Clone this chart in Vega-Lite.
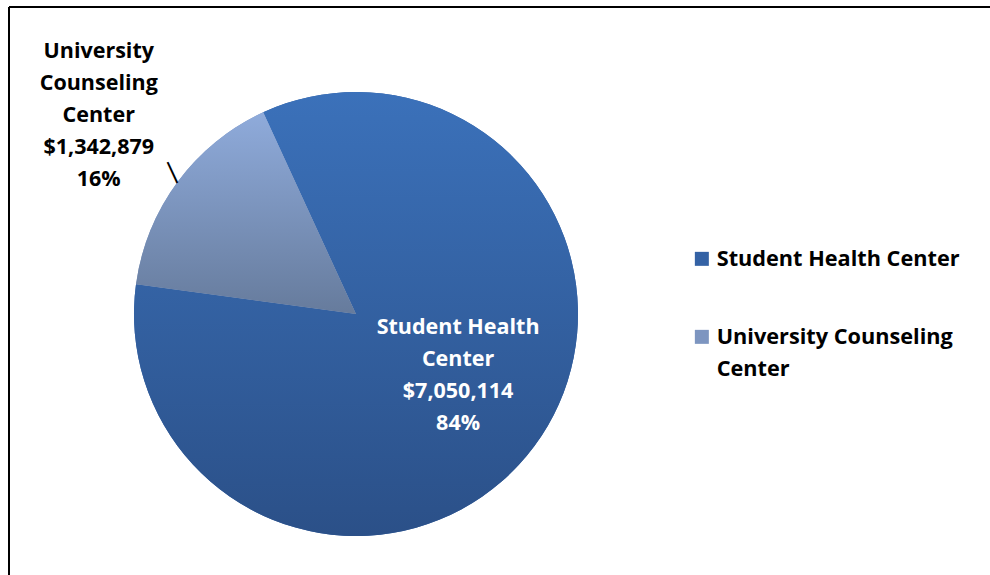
{
  "$schema": "https://vega.github.io/schema/vega-lite/v6.json",
  "width": 982,
  "height": 569,
  "padding": {"left": 8, "top": 6, "right": 0, "bottom": 0},
  "background": "white",
  "config": {
    "view": {"stroke": null},
    "style": {"guide-label": {"lineHeight": 32}}
  },
  "data": {
    "values": [
      {"name": "Student Health Center", "value": 7050114, "label": "Student Health\nCenter\n$7,050,114\n84%"},
      {"name": "University Counseling Center", "value": 1342879, "label": "University\nCounseling\nCenter\n$1,342,879\n16%"}
    ]
  },
  "layer": [
    {
      "data": {"values": [{"edge": "top"}]},
      "mark": {"type": "rule", "stroke": "black", "strokeWidth": 2},
      "encoding": {"y": {"value": 0}}
    },
    {
      "data": {"values": [{"edge": "left"}]},
      "mark": {"type": "rule", "stroke": "black", "strokeWidth": 2},
      "encoding": {"x": {"value": 0}}
    },
    {
      "mark": {"type": "arc", "outerRadius": 222, "x": 347, "y": 307, "stroke": null},
      "encoding": {
        "theta": {"field": "value", "type": "quantitative", "stack": true, "scale": {"range": [-0.431, 5.852]}},
        "color": {
          "field": "name",
          "type": "nominal",
          "scale": {
            "domain": ["Student Health Center", "University Counseling Center"],
            "range": ["#3462a5", "#7d95c0"]
          },
          "legend": {
            "title": null,
            "orient": "none",
            "legendX": 682,
            "legendY": 241,
            "symbolType": "square",
            "symbolSize": 196,
            "symbolStrokeWidth": 0,
            "symbolOpacity": 1,
            "labelFont": "Open Sans",
            "labelFontWeight": "bold",
            "labelFontSize": 21.7,
            "labelColor": "black",
            "labelLimit": 400,
            "labelOffset": 4,
            "rowPadding": 55,
            "labelExpr": "datum.label == 'University Counseling Center' ? ['University Counseling', 'Center'] : datum.label"
          }
        }
      }
    },
    {
      "mark": {"type": "arc", "outerRadius": 222, "x": 347, "y": 307, "stroke": null},
      "encoding": {
        "theta": {"field": "value", "type": "quantitative", "stack": true},
        "fill": {
          "condition": {"test": "datum.name == 'Student Health Center'", "value": {"gradient": "linear", "x1": 0, "y1": 0, "x2": 0, "y2": 1, "stops": [{"offset": 0, "color": "#3b71ba"}, {"offset": 1, "color": "#2b5088"}]}},
          "value": {"gradient": "linear", "x1": 0, "y1": 0, "x2": 0, "y2": 1, "stops": [{"offset": 0, "color": "#8fabdb"}, {"offset": 1, "color": "#667b9c"}]}
        }
      }
    },
    {
      "mark": {"type": "text", "x": 347, "y": 307, "radius": 127, "font": "Open Sans", "fontWeight": "bold", "fontSize": 21.5, "lineBreak": "\n", "lineHeight": 32, "align": "center", "baseline": "middle", "dy": -62, "color": "white"},
      "encoding": {
        "theta": {"field": "value", "type": "quantitative", "stack": true},
        "text": {"condition": {"test": "datum.name == 'Student Health Center'", "field": "label"}, "value": ""}
      }
    },
    {
      "mark": {"type": "text", "x": 347, "y": 307, "radius": 320, "font": "Open Sans", "fontWeight": "bold", "fontSize": 21.5, "lineBreak": "\n", "lineHeight": 32, "align": "center", "baseline": "middle", "dy": -72, "color": "black"},
      "encoding": {
        "theta": {"field": "value", "type": "quantitative", "stack": true},
        "text": {"condition": {"test": "datum.name == 'University Counseling Center'", "field": "label"}, "value": ""}
      }
    },
    {
      "mark": {"type": "text", "x": 347, "y": 307, "radius": 234, "font": "DejaVu Sans", "fontSize": 23, "align": "center", "baseline": "middle", "angle": -25, "dx": 5, "dy": -1, "color": "black"},
      "encoding": {
        "theta": {"field": "value", "type": "quantitative", "stack": true},
        "text": {"condition": {"test": "datum.name == 'Student Health Center'", "value": ""}, "value": "|"}
      }
    }
  ]
}
